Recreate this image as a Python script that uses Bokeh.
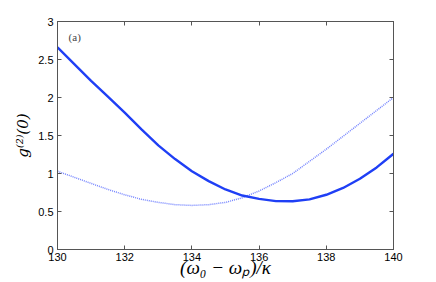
from bokeh.plotting import figure
from bokeh.models import LinearAxis, Label, FixedTicker, CustomJSTickFormatter
from bokeh.embed import file_html
from bokeh.resources import INLINE

x_vals = [130, 130.5, 131, 131.5, 132, 132.5, 133, 133.5, 134, 134.5, 135,
          135.5, 136, 136.5, 137, 137.5, 138, 138.5, 139, 139.5, 140]
g2_solid = [2.66, 2.44, 2.22, 2.01, 1.80, 1.58, 1.37, 1.19, 1.03, 0.90, 0.79,
            0.71, 0.666, 0.637, 0.635, 0.66, 0.72, 0.81, 0.93, 1.08, 1.26]
g2_dotted = [1.03, 0.95, 0.87, 0.79, 0.72, 0.66, 0.62, 0.59, 0.58, 0.59, 0.62,
             0.68, 0.77, 0.88, 1.00, 1.16, 1.32, 1.49, 1.66, 1.83, 2.00]
x_ticks = [130, 132, 134, 136, 138, 140]
y_ticks = [0, 0.5, 1, 1.5, 2, 2.5, 3]

AX = "#555555"
TICK_FONT = "Liberation Sans"
LABEL_FONT = "Liberation Serif"

p = figure(frame_width=336, frame_height=228, x_range=(130, 140), y_range=(0, 3),
           output_backend="svg", toolbar_location=None,
           x_axis_location=None, y_axis_location=None,
           min_border_left=57, min_border_right=38,
           min_border_top=21, min_border_bottom=20)
p.grid.visible = False
p.outline_line_color = AX
p.background_fill_color = "white"
p.border_fill_color = "white"

def style(ax, ticks, labels=True):
    ax.ticker = FixedTicker(ticks=ticks)
    ax.axis_line_color = AX
    ax.major_tick_line_color = AX
    ax.major_tick_in = 4
    ax.major_tick_out = 0
    ax.minor_tick_line_color = None
    ax.major_label_text_font = TICK_FONT
    ax.major_label_text_font_size = "11px"
    ax.major_label_text_color = "black"
    ax.major_label_standoff = 4
    if not labels:
        ax.formatter = CustomJSTickFormatter(code="return '';")

xb = LinearAxis(); style(xb, x_ticks)
xt = LinearAxis(); style(xt, x_ticks, labels=False)
yl = LinearAxis(); style(yl, y_ticks)
yr = LinearAxis(); style(yr, y_ticks, labels=False)
xb.major_label_standoff = 3
yl.major_label_overrides = {0: "0", 1: "1", 2: "2", 3: "3"}

xb.axis_label = "(ω₀ − ωₚ)/κ"
xb.axis_label_text_font = LABEL_FONT
xb.axis_label_text_font_style = "italic"
xb.axis_label_text_font_size = "19px"
xb.axis_label_text_color = "black"
xb.axis_label_standoff = -7

yl.axis_label = "g⁽²⁾(0)"
yl.axis_label_text_font = "DejaVu Serif"
yl.axis_label_text_font_style = "italic"
yl.axis_label_text_font_size = "15px"
yl.axis_label_text_color = "black"
yl.axis_label_standoff = 3

p.add_layout(xb, "below")
p.add_layout(xt, "above")
p.add_layout(yl, "left")
p.add_layout(yr, "right")

p.line(x_vals, g2_dotted, line_color="#7585ff", line_width=1.5, line_dash="1 1")
p.line(x_vals, g2_solid, line_color="#1f3ff5", line_width=2.4)

p.add_layout(Label(x=130.33, y=2.79, text="(a)", text_font=LABEL_FONT,
                   text_font_size="11px", text_color="#444444",
                   text_baseline="middle", text_align="left"))

open("out.html", "w").write(file_html(p, INLINE))
